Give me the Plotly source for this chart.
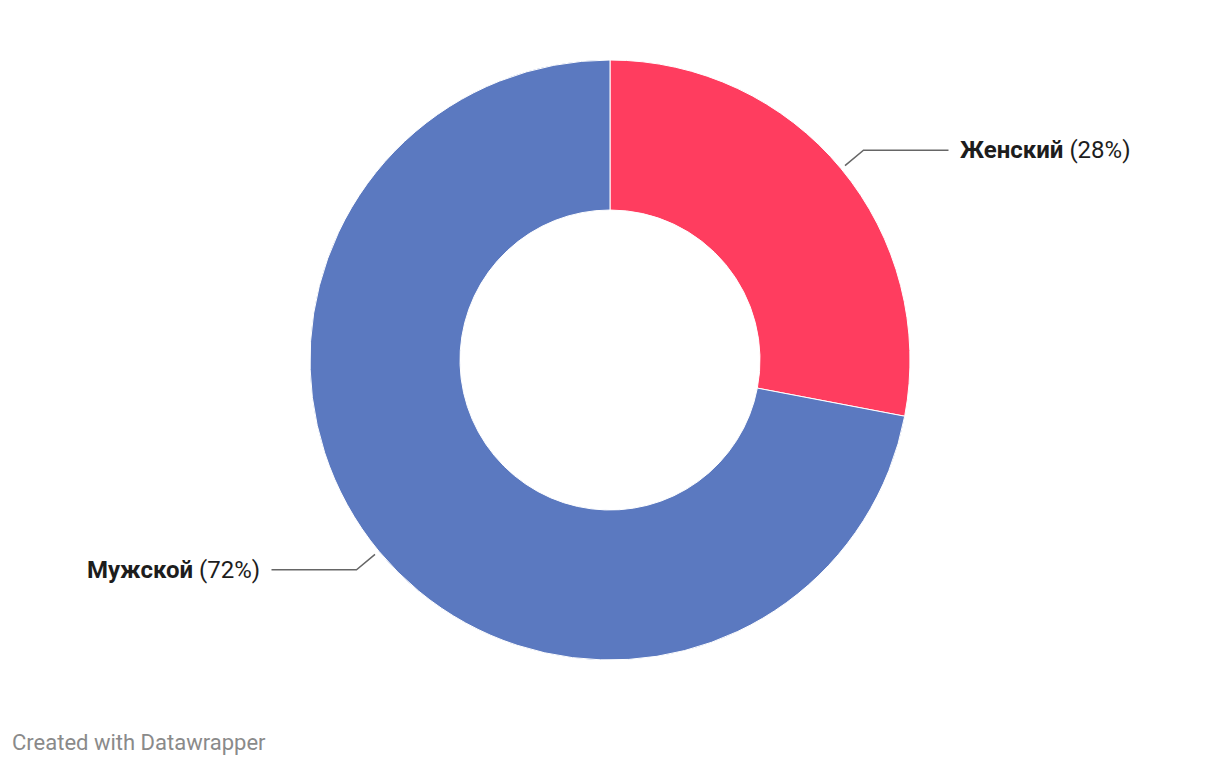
import math
import plotly.graph_objects as go

# данные
labels = ['Женский', 'Мужской']
values = [28, 72]
colors = ['#ff3d5f', '#5b79c0']

W, H = 1220, 766
OFF = 8  # отступ body в странице
cx, cy, R = 610, 360, 300  # центр и радиус кольца в пикселях экрана


def px(x):
    return (x - OFF) / W


def py(y):
    return 1 - (y - OFF) / H


fig = go.Figure()
fig.add_trace(go.Pie(
    labels=labels, values=values, hole=0.5, sort=False, direction='clockwise',
    marker=dict(colors=colors, line=dict(color='white', width=1)),
    textinfo='none', hoverinfo='label+percent',
    domain=dict(x=[px(cx - R), px(cx + R)], y=[py(cy + R), py(cy - R)]),
    showlegend=False,
))

# выноски с подписями
total = sum(values)
cum = 0
for lab, v in zip(labels, values):
    mid = (cum + v / 2) / total * 2 * math.pi
    cum += v
    sx, sy = math.sin(mid), -math.cos(mid)
    x0, y0 = cx + (R + 5) * sx, cy + (R + 5) * sy
    x1, y1 = cx + (R + 29) * sx, cy + (R + 29) * sy
    side = 1 if sx > 0 else -1
    x2 = x1 + side * 85
    fig.add_shape(type='path', xref='paper', yref='paper',
                  path=f'M {px(x0)} {py(y0)} L {px(x1)} {py(y1)} L {px(x2)} {py(y1)}',
                  line=dict(color='#666666', width=1.5))
    fig.add_annotation(x=px(x2 + side * 10), y=py(y1), xref='paper', yref='paper',
                       text=f'<b>{lab}</b> ({round(v / total * 100)}%)', showarrow=False,
                       xanchor='left' if side > 0 else 'right', yanchor='middle',
                       font=dict(family='Roboto', size=24, color='#1d1d1d'))

fig.add_annotation(x=px(10), y=py(742), xref='paper', yref='paper',
                   text='Created with Datawrapper', showarrow=False,
                   xanchor='left', yanchor='middle',
                   font=dict(family='Roboto', size=22, color='#8a8a8a'))

fig.update_layout(
    width=W, height=H,
    margin=dict(l=0, r=0, t=0, b=0),
    paper_bgcolor='white', plot_bgcolor='white',
    font=dict(family='Roboto'),
)

fig.write_html('out.html')
